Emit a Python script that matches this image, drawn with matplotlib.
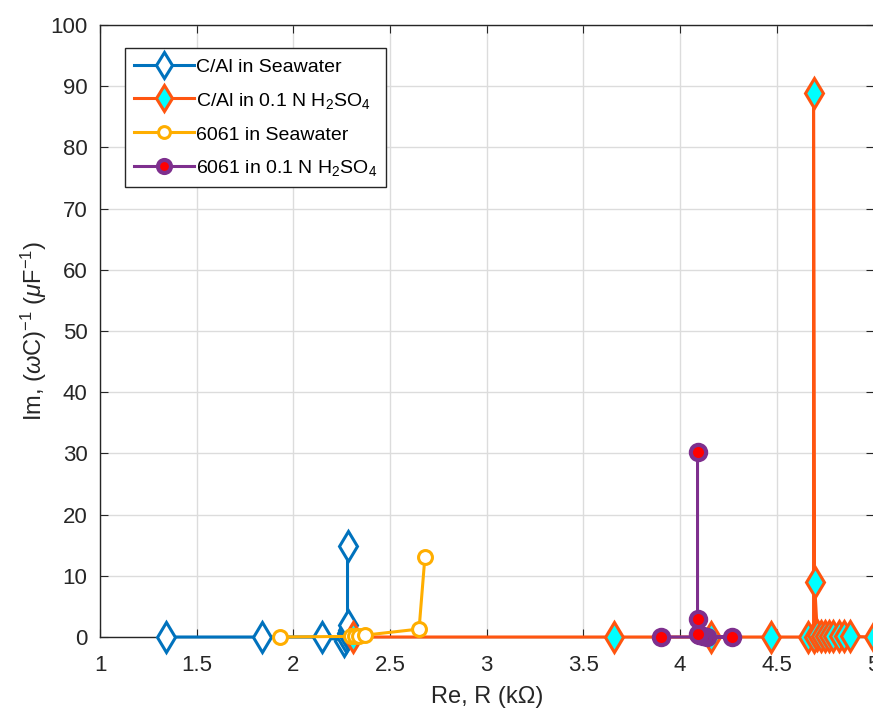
import matplotlib
matplotlib.use("Agg")
import matplotlib.pyplot as plt

plt.rcParams['font.family'] = ['Liberation Sans', 'DejaVu Sans']
plt.rcParams['mathtext.fontset'] = 'custom'
plt.rcParams['mathtext.rm'] = 'Liberation Sans'
plt.rcParams['mathtext.it'] = 'Liberation Sans:italic'

# C/Al in Seawater
cal_sw_x = [1.34, 1.84, 2.15, 2.26, 2.27, 2.275, 2.28, 2.28, 2.28]
cal_sw_y = [0.0, 0.0, 0.0, -0.6, 0.0, 0.6, 1.2, 2.0, 14.9]

# C/Al in 0.1 N H2SO4
cal_h_x = [2.31, 3.66, 4.16, 4.47, 4.66, 4.69, 4.69, 4.695, 4.71, 4.73, 4.75, 4.77, 4.79, 4.82, 4.85, 4.88, 5.0]
cal_h_y = [0.0, 0.0, 0.0, 0.0, 0.0, 0.0, 88.9, 9.0, 0.3, 0.2, 0.1, 0.1, 0.1, 0.1, 0.1, 0.1, 0.0]

# 6061 in Seawater
a_sw_x = [1.93, 2.30, 2.32, 2.34, 2.37, 2.65, 2.68]
a_sw_y = [0.0, 0.1, 0.2, 0.2, 0.3, 1.3, 13.0]

# 6061 in 0.1 N H2SO4
a_h_x = [3.90, 4.27, 4.14, 4.12, 4.10, 4.09, 4.09, 4.09]
a_h_y = [0.0, 0.0, 0.0, 0.2, 0.3, 0.5, 2.9, 30.2]

labels = ['C/Al in Seawater', 'C/Al in 0.1 N H$_2$SO$_4$',
          '6061 in Seawater', '6061 in 0.1 N H$_2$SO$_4$']

fig = plt.figure(figsize=(8.73, 7.11), dpi=100)
ax = fig.add_axes([100/873, 1-637/711, 773.5/873, (637-25)/711])

common = dict(lw=2.2, clip_on=False)
ax.plot(cal_sw_x, cal_sw_y, color='#0072BD', marker='d', ms=15,
        mfc='white', mec='#0072BD', mew=2.2, label=labels[0], zorder=3, **common)
ax.plot(cal_h_x, cal_h_y, color='#FF5510', marker='d', ms=15,
        mfc='#00FFFF', mec='#FF5510', mew=2.2, label=labels[1], zorder=4, **common)
ax.plot(a_sw_x, a_sw_y, color='#FFAE00', marker='o', ms=10,
        mfc='white', mec='#FFAE00', mew=2.2, label=labels[2], zorder=5, **common)
ax.plot(a_h_x, a_h_y, color='#7E2F8E', marker='o', ms=11,
        mfc='#FF0000', mec='#7E2F8E', mew=3, label=labels[3], zorder=6, **common)

ax.set_xlim(1, 5)
ax.set_ylim(0, 100)
ax.set_xticks([1, 1.5, 2, 2.5, 3, 3.5, 4, 4.5, 5])
ax.set_xticklabels(['1', '1.5', '2', '2.5', '3', '3.5', '4', '4.5', '5'])
ax.set_yticks(range(0, 101, 10))
ax.grid(True, color='#DCDCDC', lw=1)
ax.set_axisbelow(True)
ax.tick_params(direction='in', length=6, labelsize=16, colors='#262626',
               top=True, right=True)
ax.tick_params(axis='x', pad=13)
ax.tick_params(axis='y', pad=9)
for s in ax.spines.values():
    s.set_color('#262626')
    s.set_linewidth(1)

ax.set_xlabel('Re, R (k\u03a9)', fontsize=17, color='#262626', labelpad=7)
ax.set_ylabel(r'Im, ($\omega$C)$^{-1}$ ($\mathit{\mu}$F$^{-1}$)', fontsize=17,
              color='#262626', labelpad=1)

leg = ax.legend(loc='upper left', bbox_to_anchor=(25/772, 0.962), fontsize=14,
                fancybox=False, framealpha=1, edgecolor='#262626',
                handlelength=3.1, handleheight=1.0, borderpad=0.45,
                labelspacing=0.72, handletextpad=0.1, borderaxespad=0)
leg.get_frame().set_linewidth(1)
for h in leg.legend_handles:
    h.set_markersize(h.get_markersize()*0.85)

fig.savefig('out.png', dpi=100)
